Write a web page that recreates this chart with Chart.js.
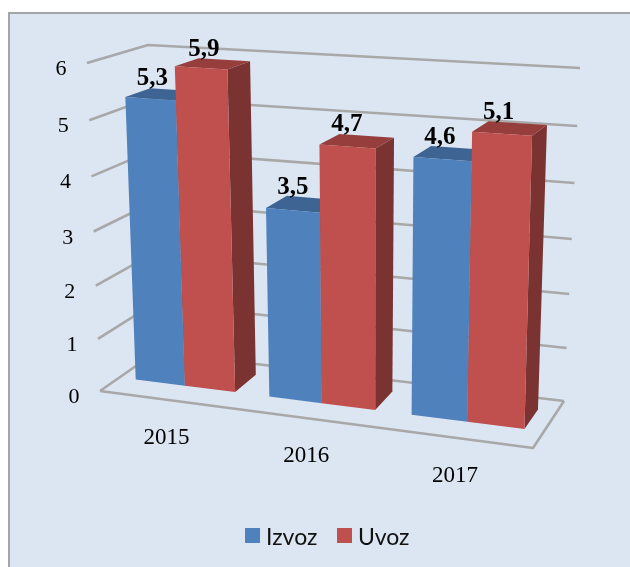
<!DOCTYPE html>
<html><head><meta charset="utf-8">
<style>html,body{margin:0;padding:0;background:#fff}canvas{display:block}</style>
<script src="https://cdn.jsdelivr.net/npm/chart.js@4"></script></head>
<body><canvas id="c" width="630" height="567"></canvas>
<script>
const categories = ['2015','2016','2017'];
const izvoz = [5.3,3.5,4.6];
const uvoz = [5.9,4.7,5.1];
const seriesNames = ['Izvoz','Uvoz'];
const yTicks = [0,1,2,3,4,5,6];

// 3D box of the plot: [u, v, w] corners on screen
const C = {
  fb0:[100,391], fb1:[533,448], bb0:[156,352], bb1:[564,401],
  ft0:[87,63],   ft1:[545,90],  bt0:[148,45],  bt1:[580,68]
};
const W1 = 0.35, W2 = 0.77, K = 0.1, KV = 0.055;
const lerp=(a,b,t)=>[a[0]+(b[0]-a[0])*t,a[1]+(b[1]-a[1])*t];
function proj(u,v,w){
  const fb=lerp(C.fb0,C.fb1,u), bb=lerp(C.bb0,C.bb1,u), ft=lerp(C.ft0,C.ft1,u), bt=lerp(C.bt0,C.bt1,u);
  return lerp(lerp(fb,bb,w),lerp(ft,bt,w),v);
}
// bars stand slightly inside the box: their tops lean a little further left
function projBar(u,v,w){
  const p=proj(u,v,w);
  return [p[0]-3.3*v*Math.min(1,(u+0.1)/0.3),p[1]];
}
let area=null, pending=[];
const warp=u=>u/(1+K*(1-u));
const U=px=>warp((px-area.left)/area.width);
const Vraw=py=>(area.bottom-py)/area.height;
const V=py=>{const v=Vraw(py);return v-KV*v*(1-v);};
function shade(hex,f){const n=parseInt(hex.slice(1),16);
  return `rgb(${(n>>16&255)*f|0},${(n>>8&255)*f|0},${(n&255)*f|0})`;}
function poly(ctx,pts,fill){ctx.beginPath();pts.forEach((p,i)=>i?ctx.lineTo(p[0],p[1]):ctx.moveTo(p[0],p[1]));ctx.closePath();ctx.fillStyle=fill;ctx.fill();}

// bars are queued by the library, then painted left to right so nearer faces cover farther ones
Chart.BarElement.prototype.draw=function(){pending.push(this);};
function paintBar(ctx,b){
  const col=b.options.backgroundColor;
  const u0=U(b.x-b.width/2),u1=U(b.x+b.width/2),v0=V(b.base),v1=V(b.y);
  poly(ctx,[projBar(u1,v0,W1),projBar(u1,v0,W2),projBar(u1,v1,W2),projBar(u1,v1,W1)],shade(col,0.64));
  poly(ctx,[projBar(u0,v1,W1),projBar(u1,v1,W1),projBar(u1,v1,W2),projBar(u0,v1,W2)],shade(col,0.78));
  poly(ctx,[projBar(u0,v0,W1),projBar(u1,v0,W1),projBar(u1,v1,W1),projBar(u0,v1,W1)],col);
}

const scene={id:'scene',
  beforeDraw(ch){
    const c=ch.ctx; area=ch.chartArea;
    c.save();
    c.fillStyle='#DCE6F2';c.fillRect(8,13,622,554);
    c.fillStyle='#A3A6A8';c.fillRect(8,12,622,2);c.fillRect(8,12,2,555);
    c.restore();
  },
  beforeDatasetsDraw(ch){
    pending=[];
    const c=ch.ctx,y=ch.scales.y,x=ch.scales.x;
    c.save();c.strokeStyle='#A8A8A8';c.lineWidth=2.6;c.lineJoin='round';
    const seg=(pts)=>{c.beginPath();pts.forEach((p,i)=>i?c.lineTo(p[0],p[1]):c.moveTo(p[0],p[1]));c.stroke();};
    yTicks.forEach(t=>{const v=V(y.getPixelForValue(t));
      seg([proj(0,v,0),proj(0,v,1),proj(1,v,1)]);});
    seg([proj(0,0,0),proj(1,0,0),proj(1,0,1)]);
    c.fillStyle='#000';c.textAlign='center';c.textBaseline='alphabetic';
    c.font='22px "Liberation Serif"';
    yTicks.forEach(t=>{const p=proj(0,V(y.getPixelForValue(t)),0);c.fillText(String(t),p[0]-26,p[1]+12);});
    c.font='23px "Liberation Serif"';
    categories.forEach((l,i)=>{const p=proj(U(x.getPixelForValue(i)),0,0);c.fillText(l,p[0],p[1]+44);});
    c.restore();
  },
  afterDatasetsDraw(ch){
    const c=ch.ctx;
    c.save();
    pending.slice().sort((a,b)=>a.x-b.x).forEach(b=>paintBar(c,b));
    c.fillStyle='#000';c.textAlign='center';c.textBaseline='alphabetic';
    c.font='bold 25px "Liberation Serif"';
    ch.data.datasets.forEach((d,di)=>{
      ch.getDatasetMeta(di).data.forEach((b,i)=>{
        const u=U(b.x),p=proj(u,Vraw(b.y),W1);
        c.fillText(String(d.data[i]).replace('.',','),p[0]-9*Math.max(0,u-0.2),p[1]-12);
      });
    });
    // legend
    c.textAlign='left';c.textBaseline='middle';c.font='23px Lato';
    const xs=[245,337];
    ch.data.datasets.forEach((d,i)=>{
      c.fillStyle=d.backgroundColor;c.fillRect(xs[i],528,15,15);
      c.fillStyle='#111';c.fillText(d.label,xs[i]+21,538);
    });
    c.restore();
  }
};

new Chart(document.getElementById('c'),{
  type:'bar',
  data:{labels:categories,datasets:[
    {label:seriesNames[0],data:izvoz,backgroundColor:'#4F81BD'},
    {label:seriesNames[1],data:uvoz,backgroundColor:'#C0504D'}
  ]},
  options:{responsive:false,animation:false,
    layout:{padding:{left:100,right:100,top:60,bottom:120}},
    datasets:{bar:{categoryPercentage:0.75,barPercentage:1}},
    scales:{x:{display:false},y:{display:false,min:0,max:6}},
    plugins:{legend:{display:false},tooltip:{enabled:false}}
  },
  plugins:[scene]
});
</script></body></html>
